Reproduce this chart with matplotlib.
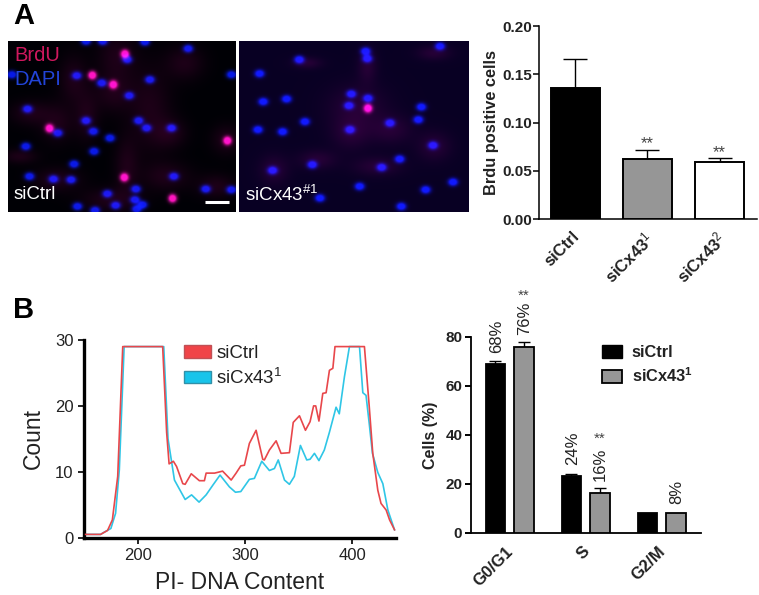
import numpy as np
import matplotlib
matplotlib.use("Agg")
import matplotlib.pyplot as plt
from matplotlib.patches import Patch
from matplotlib.transforms import ScaledTranslation

plt.rcParams['font.family'] = ['Liberation Sans', 'DejaVu Sans']
plt.rcParams['mathtext.fontset'] = 'custom'
plt.rcParams['mathtext.rm'] = 'Liberation Sans'
plt.rcParams['mathtext.it'] = 'Liberation Sans:italic'
plt.rcParams['mathtext.bf'] = 'Liberation Sans:bold'
plt.rcParams['mathtext.default'] = 'rm'

# ---- micrograph content (positions in panel units) ----
left_blue = [(258,125),(308,125),(435,127),(565,147),(382,180),(230,228),(305,250),(450,240),(695,225),(35,225),
             (388,288),(82,328),(258,363),(416,363),(440,385),(515,385),(173,400),(280,395),(330,415),(77,440),
             (282,455),(222,493),(88,530),(160,538),(213,540),(522,530),(408,568),(618,568),(695,570),(322,582),
             (405,600),(347,617),(428,615),(410,628),(285,632),(232,620)]
left_magenta = [(375,163),(277,227),(340,255),(148,386),(683,423),(373,533),(518,596)]
left_haze = [(350,170,40,50),(555,190,40,35),(450,330,45,90),(340,280,40,40),(170,370,35,40),(260,350,25,50),
             (510,400,35,30),(220,240,30,50),(680,420,30,30),(90,340,40,25),(380,500,25,60),(500,530,50,30),
             (170,540,50,25),(650,560,40,25),(330,600,60,25),(60,470,35,15)]
right_blue = [(1095,155),(1100,177),(1318,140),(896,180),(777,222),(788,306),(858,298),(1052,283),(1102,296),
              (1045,318),(1262,322),(1253,360),(913,366),(772,390),(846,396),(1048,390),(1168,370),(1297,437),
              (1197,478),(935,495),(1143,503),(816,512),(1077,560),(1275,570),(1357,547),(1202,620),(958,595)]
right_magenta = [(1102,326)]
right_haze = [(1070,320,60,45),(1050,400,40,35),(1170,390,45,30),(1130,500,50,20),(820,510,30,30),(1300,160,35,15),
              (1100,200,20,35),(1300,440,35,30),(920,190,30,12),(950,480,40,20)]

# ---- bar chart A ----
a_labels = ['siCtrl', r'siCx43$^{\mathit{1}}$', r'siCx43$^{\mathit{2}}$']
a_values = [0.136, 0.062, 0.059]
a_errors = [0.030, 0.010, 0.004]
a_colors = ['black', '#969696', 'white']
a_stars = ['', '**', '**']
a_star_y = [0, 0.078, 0.0695]

# ---- flow histogram ----
red_x = [151,165,171.5,176,181,185.7,223,226.7,229,233,236,241.8,244,249.7,257.3,262,263.6,271.5,279,287,291.6,296,
         299.4,304,310.3,316.5,318,322.7,329,333.6,341.4,345,350.8,356.4,360.7,364,366,369,372.6,375.7,378.8,382,
         384,411.5,416,419.3,424,427,431.8,435,439.6]
red_y = [0.5,0.5,1.1,2.7,9.3,29,29,16,11.2,11.6,10.8,8.2,8.1,9.7,8.65,8.65,9.8,9.8,10.1,8.75,9.8,10.9,
         11,14.3,16.3,11.9,11.8,13.3,14.7,12.8,12.9,17.5,18.5,16.3,17.6,20,20,17.7,21.9,22,25.4,25.7,
         29,29,19.9,12.8,7.2,5.2,4.2,2.7,1.2]
cyan_x = [151,165,168,174.6,179,182.5,187,224,228,234,244,250,257,263.6,270,276.6,285.4,291,296,304,308.7,315.6,322.7,
          327.4,331,336.8,341.4,346,351.7,357.6,360.7,364.8,369,374,378.8,385,388,392.8,397.5,406.9,410,413,416,419,
          424,428.7,433.4,439.6]
cyan_y = [0.5,0.5,0.8,1.4,3.7,10.3,29,29,15,8.75,5.8,6.5,5.4,6.5,8,9.5,7.7,6.9,7,8.85,9,11.6,10.2,
          10.5,11.8,8.75,8.1,9.3,14,11.8,11.9,12.8,11.7,13.3,16,19.8,18.8,24.4,29,29,22,21.6,17.3,12.8,
          9.9,8.2,4.2,1.2]

# ---- bar chart B ----
b_labels = ['G0/G1', 'S', 'G2/M']
b_ctrl = [69.0, 23.4, 8.0]
b_ctrl_err = [1.2, 0.8, 0.0]
b_cx = [75.8, 16.4, 8.0]
b_cx_err = [2.0, 2.1, 0.0]
b_ctrl_pct = ['68%', '24%', '']
b_cx_pct = ['76%', '16%', '8%']
b_ctrl_pct_y = [73.4, 27.7, 0]
b_cx_pct_y = [80.7, 21.3, 11.8]
b_star_y = [96.5, 38.5]

W, H = 759, 595
fig = plt.figure(figsize=(W/100, H/100), dpi=100, facecolor='white')

def axpx(x0, y0, x1, y1):
    return fig.add_axes([x0/W, 1-y1/H, (x1-x0)/W, (y1-y0)/H])

def gauss(X, Y, cx, cy, sx, sy):
    return np.exp(-((X-cx)**2/(2*sx**2) + (Y-cy)**2/(2*sy**2)))

def micrograph(box, ext, blue, magenta, haze, bg):
    ax = axpx(*box)
    xs = np.linspace(ext[0], ext[1], 460)
    ys = np.linspace(ext[2], ext[3], 344)
    X, Y = np.meshgrid(xs, ys)
    img = np.zeros(X.shape + (3,)) + np.array(bg)
    for cx, cy, sx, sy in haze:
        g = gauss(X, Y, cx, cy, sx, sy)
        img += g[..., None] * np.array([0.11, 0.0, 0.07])
    for cx, cy in blue:
        g = np.clip(gauss(X, Y, cx, cy, 9.5, 7.5)*1.6, 0, 1)
        img += g[..., None] * np.array([0.03, 0.10, 0.88])
    for cx, cy in magenta:
        g = np.clip(gauss(X, Y, cx, cy, 8, 8)*1.7, 0, 1)
        img += g[..., None] * np.array([0.98, 0.08, 0.72])
    ax.imshow(np.clip(img, 0, 1), extent=[ext[0], ext[1], ext[3], ext[2]], aspect='auto', interpolation='bilinear')
    ax.set_xticks([]); ax.set_yticks([])
    for s in ax.spines.values():
        s.set_visible(False)
    return ax

def shift_labels(ax, dx_px):
    off = ScaledTranslation(dx_px/100, 0, fig.dpi_scale_trans)
    for t in ax.get_xticklabels():
        t.set_transform(t.get_transform() + off)

p1 = micrograph((8, 40.5, 236, 212), (24, 708, 122, 636), left_blue, left_magenta, left_haze, (0.0, 0.0, 0.02))
p1.text(42, 167, 'BrdU', color='#D0185E', fontsize=14.5, va='center')
p1.text(42, 240, 'DAPI', color='#2244D8', fontsize=14.5, va='center')
p1.text(42, 583, 'siCtrl', color='white', fontsize=13.5, va='center')
p1.plot([615, 688], [607, 607], color='white', lw=2.2, solid_capstyle='butt')
p1.set_xlim(24, 708); p1.set_ylim(636, 122)

p2 = micrograph((238.5, 40.5, 468, 212), (716, 1404, 122, 636), right_blue, right_magenta, right_haze, (0.035, 0.0, 0.14))
p2.text(734, 585, r'siCx43$^{\#1}$', color='white', fontsize=13.5, va='center')
p2.set_xlim(716, 1404); p2.set_ylim(636, 122)

fig.text(13/W, 1-23.5/H, 'A', fontsize=21, fontweight='bold', va='baseline')
fig.text(13/W, 1-318/H, 'B', fontsize=21, fontweight='bold', va='baseline')

# Panel A bars
ax = axpx(539, 26, 757, 219.3)
x = np.arange(len(a_values))
ax.bar(x, a_values, width=0.68, color=a_colors, edgecolor='black', linewidth=1.4, zorder=3)
for i in range(len(a_values)):
    ax.errorbar(x[i], a_values[i], yerr=[[0], [a_errors[i]]], color='black', lw=1.0, capsize=8.8, capthick=1.0, zorder=2)
    if a_stars[i]:
        ax.text(x[i], a_star_y[i], a_stars[i], ha='center', va='center', fontsize=12, color='#444444')
ax.set_xlim(-0.503, 2.52); ax.set_ylim(0, 0.2)
ax.set_yticks([0, 0.05, 0.10, 0.15, 0.20])
ax.set_yticklabels(['0.00', '0.05', '0.10', '0.15', '0.20'], fontsize=11, fontweight='bold', color='#222222')
ax.set_xticks(x)
ax.set_xticklabels(a_labels, fontsize=12, fontweight='bold', rotation=45, ha='right', rotation_mode='anchor', color='#222222')
ax.tick_params(axis='y', length=4.3, width=1.1, pad=0.8)
ax.tick_params(axis='x', length=0, pad=7)
shift_labels(ax, -4)
ax.set_ylabel('Brdu positive cells', fontsize=11.8, fontweight='bold', labelpad=2, color='#222222')
ax.spines[['top', 'right']].set_visible(False)
ax.spines[['left', 'bottom']].set_linewidth(1.1)
ax.patch.set_alpha(0)

# Panel B histogram
ax = axpx(84, 340, 396, 537.7)
ax.plot(cyan_x, cyan_y, color='#2FC6E6', lw=1.2, label=r'siCx43$^{1}$', zorder=2)
ax.plot(red_x, red_y, color='#E8474B', lw=1.2, label='siCtrl', zorder=3)
ax.set_xlim(149.5, 441); ax.set_ylim(0, 30)
ax.set_xticks([200, 300, 400]); ax.set_yticks([0, 10, 20, 30])
ax.tick_params(axis='both', labelsize=12, length=4.5, width=1.4, colors='#222222', pad=3)
ax.spines[['top', 'right']].set_visible(False)
ax.spines[['left', 'bottom']].set_linewidth(2.4)
ax.set_xlabel('PI- DNA Content', fontsize=16.5, labelpad=6, color='#222222')
ax.set_ylabel('Count', fontsize=16.5, labelpad=7, color='#222222')
ax.patch.set_alpha(0)
ax.legend(handles=[Patch(facecolor='#F04448', edgecolor='#C05055', label='siCtrl'),
                   Patch(facecolor='#18C4EA', edgecolor='#3090A8', label=r'siCx43$^{1}$')],
          loc='upper left', bbox_to_anchor=(100/312, 1-5/197.7), frameon=False, fontsize=13.5,
          handlelength=1.44, handleheight=0.65, handletextpad=0.27, labelspacing=0.3, borderpad=0, borderaxespad=0,
          labelcolor='#222222')

# Panel B bars
ax = axpx(470.7, 336.7, 701, 533)
g = np.arange(3)
off, bw = 0.187, 0.255
ax.bar(g-off, b_ctrl, width=bw, color='black', edgecolor='black', linewidth=1.3, zorder=3)
ax.bar(g+off, b_cx, width=bw, color='#969696', edgecolor='black', linewidth=1.3, zorder=3)
for i in g:
    if b_ctrl_err[i]:
        ax.errorbar(i-off, b_ctrl[i], yerr=[[0], [b_ctrl_err[i]]], color='black', lw=1.0, capsize=4, capthick=1.0, zorder=2)
    if b_cx_err[i]:
        ax.errorbar(i+off, b_cx[i], yerr=[[0], [b_cx_err[i]]], color='black', lw=1.0, capsize=4, capthick=1.0, zorder=2)
    if b_ctrl_pct[i]:
        ax.text(i-off+0.01, b_ctrl_pct_y[i], b_ctrl_pct[i], rotation=90, ha='center', va='bottom', fontsize=12, color='#222222', clip_on=False)
    ax.text(i+off+0.01, b_cx_pct_y[i], b_cx_pct[i], rotation=90, ha='center', va='bottom', fontsize=12, color='#222222', clip_on=False)
for i in range(2):
    ax.text(i+off, b_star_y[i], '**', ha='center', va='center', fontsize=11, color='#444444', clip_on=False)
ax.set_xlim(-0.512, 2.518); ax.set_ylim(0, 80)
ax.set_yticks([0, 20, 40, 60, 80])
ax.tick_params(axis='y', length=4, width=1.4, pad=2, labelsize=11, labelcolor='#222222')
for t in ax.get_yticklabels():
    t.set_fontweight('bold')
ax.set_xticks(g)
ax.set_xticklabels(b_labels, fontsize=12, fontweight='bold', rotation=45, ha='right', rotation_mode='anchor', color='#222222')
ax.tick_params(axis='x', length=0, pad=8)
shift_labels(ax, -4)
ax.set_ylabel('Cells (%)', fontsize=11.5, fontweight='bold', labelpad=5, color='#222222')
ax.spines[['top', 'right']].set_visible(False)
ax.spines[['left', 'bottom']].set_linewidth(1.3)
ax.patch.set_alpha(0)
ax.legend(handles=[Patch(facecolor='black', edgecolor='black', label='siCtrl'),
                   Patch(facecolor='#969696', edgecolor='black', linewidth=1.3, label=r'siCx43$^{\mathbf{1}}$')],
          loc='upper left', bbox_to_anchor=(131.5/230.3, 1-8/196.3), frameon=False,
          prop={'size': 11.8, 'weight': 'bold'}, handlelength=1.2, handleheight=0.85, handletextpad=0.6,
          labelspacing=0.4, borderpad=0, borderaxespad=0, labelcolor='#222222')

fig.savefig('out.png', dpi=100, facecolor='white')
